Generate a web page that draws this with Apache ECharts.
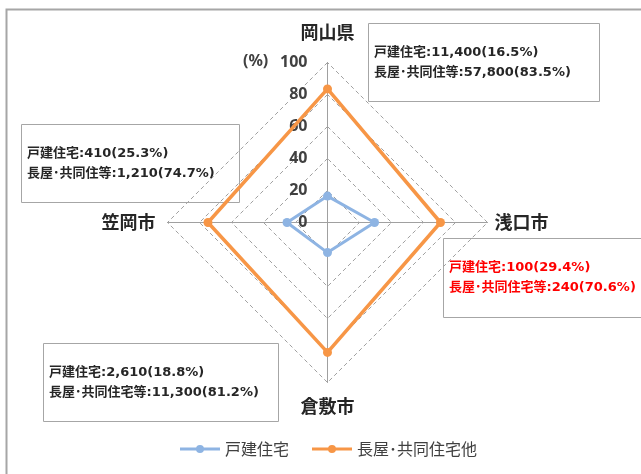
<!DOCTYPE html>
<html>
<head>
<meta charset="utf-8">
<script src="https://cdn.jsdelivr.net/npm/echarts@6/dist/echarts.min.js"></script>
<style>
  html, body { margin: 0; padding: 0; background: #fff; }
  #chart { width: 641px; height: 474px; }
</style>
</head>
<body>
<div id="chart"></div>
<script>
// Regions, in the radar's counter-clockwise order starting from the top
const regions = ['岡山県', '笠岡市', '倉敷市', '浅口市'];
// Share of detached houses (%)
const detachedPct = [16.5, 25.3, 18.8, 29.4];
// Share of row houses / apartments etc. (%)
const multiPct = [83.5, 74.7, 81.2, 70.6];
// Dwelling counts shown in the note boxes
const detachedCount = ['11,400', '410', '2,610', '100'];
const multiCount = ['57,800', '1,210', '11,300', '240'];
const multiNoteName = ['長屋･共同住等', '長屋･共同住等', '長屋･共同住宅等', '長屋･共同住宅等'];
const seriesNames = ['戸建住宅', '長屋･共同住宅他'];
const axisMax = 100;
const axisSplits = 5;

const FONT = '"Noto Sans CJK JP", "Noto Sans", sans-serif';
const NOTE_FONT = 'bold 13px "DejaVu Sans", "Noto Sans CJK JP", sans-serif';
const nameGaps = [21, 12, 15, 7];

const chart = echarts.init(document.getElementById('chart'), null, { renderer: 'canvas' });

// Note boxes: [region index, left, top, width, height, text colour]
const notes = [
  [0, 368, 23, 231, 78, '#262626'],
  [1, 21, 124, 218, 78, '#262626'],
  [3, 443, 238, 220, 79, '#FF0000'],
  [2, 43, 343, 235, 78, '#262626']
];

const graphics = [
  {
    type: 'rect', z: -10, silent: true,
    shape: { x: 6.5, y: 9.5, width: 700, height: 500 },
    style: { fill: 'none', stroke: '#A6A6A6', lineWidth: 2 }
  },
  {
    type: 'text', left: 243, top: 53,
    style: { text: '(%)', font: 'bold 16px "Noto Sans", sans-serif', fill: '#404040' }
  }
];
notes.forEach(([i, x, y, w, h, color]) => {
  graphics.push({
    type: 'group', left: x, top: y,
    children: [
      { type: 'rect', shape: { x: 0.5, y: 0.5, width: w, height: h },
        style: { fill: '#fff', stroke: '#A6A6A6', lineWidth: 1 } },
      { type: 'text', x: 6, y: 30,
        style: { text: seriesNames[0] + ':' + detachedCount[i] + '(' + detachedPct[i].toFixed(1) + '%)',
                 font: NOTE_FONT, fill: color, textVerticalAlign: 'middle' } },
      { type: 'text', x: 6, y: 50,
        style: { text: multiNoteName[i] + ':' + multiCount[i] + '(' + multiPct[i].toFixed(1) + '%)',
                 font: NOTE_FONT, fill: color, textVerticalAlign: 'middle' } }
    ]
  });
});

// Legend icon: a short line with a filled dot in the middle
const legendIcon = 'path://M0,2.5H40V5.5H0Z M16,4A4,4 0 1,1 24,4A4,4 0 1,1 16,4Z';

chart.setOption({
  backgroundColor: '#fff',
  animation: false,
  color: ['#8EB4E3', '#F79646'],
  legend: {
    bottom: 12, left: 175,
    itemWidth: 40, itemHeight: 8, itemGap: 23,
    textStyle: { fontFamily: FONT, fontSize: 16, color: '#404040' },
    data: [
      { name: seriesNames[0], icon: legendIcon },
      { name: seriesNames[1], icon: legendIcon }
    ]
  },
  radar: {
    center: [327.5, 222.5],
    radius: 160,
    startAngle: 90,
    splitNumber: axisSplits,
    shape: 'polygon',
    axisName: { fontFamily: FONT, fontSize: 18, fontWeight: 'bold', color: '#262626' },
    axisLine: { lineStyle: { color: '#A0A0A0', width: 1 } },
    splitLine: { lineStyle: { color: '#A0A0A0', width: 1, type: [4, 3] } },
    splitArea: { show: false },
    axisTick: { show: false },
    axisLabel: { show: false },
    indicator: regions.map((name, i) => {
      const ind = { name: name, min: 0, max: axisMax, nameGap: nameGaps[i] };
      if (i === 0) {
        ind.axisLabel = {
          show: true, margin: 20, align: 'right',
          fontFamily: '"Noto Sans", sans-serif', fontSize: 16, fontWeight: 'bold', color: '#404040'
        };
      }
      return ind;
    })
  },
  series: [{
    type: 'radar',
    symbol: 'circle',
    symbolSize: 9,
    data: [
      { name: seriesNames[0], value: detachedPct,
        lineStyle: { width: 3, color: '#8EB4E3' }, itemStyle: { color: '#8EB4E3' } },
      { name: seriesNames[1], value: multiPct,
        lineStyle: { width: 3.5, color: '#F79646' }, itemStyle: { color: '#F79646' } }
    ]
  }],
  graphic: graphics
});
</script>
</body>
</html>
